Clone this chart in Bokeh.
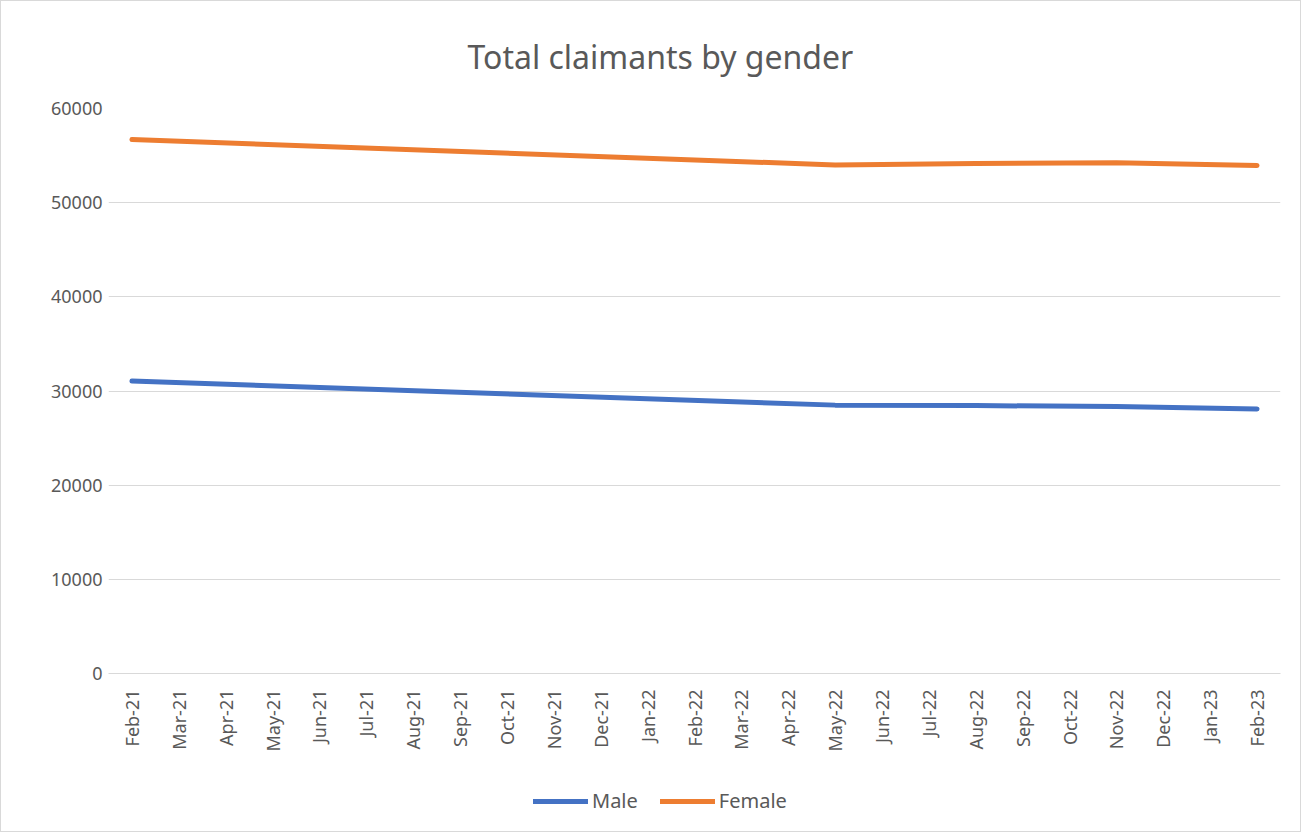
import math
from bokeh.plotting import figure
from bokeh.layouts import column
from bokeh.models import Legend, LegendItem, FactorRange, Range1d, SingleIntervalTicker
from bokeh.embed import file_html
from bokeh.resources import INLINE

months = ["Feb-21", "Mar-21", "Apr-21", "May-21", "Jun-21", "Jul-21", "Aug-21", "Sep-21",
          "Oct-21", "Nov-21", "Dec-21", "Jan-22", "Feb-22", "Mar-22", "Apr-22", "May-22",
          "Jun-22", "Jul-22", "Aug-22", "Sep-22", "Oct-22", "Nov-22", "Dec-22", "Jan-23", "Feb-23"]

obs_months = ["Feb-21", "May-22", "Aug-22", "Nov-22", "Feb-23"]
male = [31050, 28500, 28450, 28350, 28100]
female = [56700, 54000, 54150, 54250, 53950]

FONT = "Noto Sans"
GREY = "#595959"
BLUE = "#4472C4"
ORANGE = "#ED7D31"

x_range = FactorRange(*months)

p = figure(frame_width=1172, frame_height=565, x_range=x_range, y_range=Range1d(0, 60000),
           output_backend="svg", toolbar_location=None,
           min_border_left=107, min_border_right=20, min_border_top=107, min_border_bottom=110)
p.outline_line_color = None

p.title.text = "Total claimants by gender"
p.title.align = "left"
p.title.offset = 359
p.title.text_font = FONT
p.title.text_font_size = "32px"
p.title.text_font_style = "normal"
p.title.text_color = GREY
p.title.standoff = 62

p.line(obs_months, male, line_color=BLUE, line_width=5, line_cap="round", line_join="round")
p.line(obs_months, female, line_color=ORANGE, line_width=5, line_cap="round", line_join="round")

p.yaxis.ticker = SingleIntervalTicker(interval=10000)
p.yaxis.axis_line_color = None
p.yaxis.major_tick_line_color = None
p.yaxis.minor_tick_line_color = None
p.yaxis.major_label_text_font = FONT
p.yaxis.major_label_text_font_size = "18px"
p.yaxis.major_label_text_color = GREY
p.yaxis.major_label_standoff = 0

p.xaxis.axis_line_color = "#d9d9d9"
p.xaxis.axis_line_width = 1
p.xaxis.major_tick_line_color = None
p.xaxis.minor_tick_line_color = None
p.xaxis.major_label_orientation = math.pi / 2
p.xaxis.major_label_text_font = FONT
p.xaxis.major_label_text_font_size = "18px"
p.xaxis.major_label_text_color = GREY
p.xaxis.major_label_standoff = 10

p.xgrid.grid_line_color = None
p.ygrid.grid_line_color = "#d9d9d9"
p.ygrid.grid_line_width = 1

# legend strip below the chart (series drawn outside its visible range)
lf = figure(width=1299, height=48, x_range=x_range, y_range=Range1d(0, 1),
            output_backend="svg", toolbar_location=None,
            x_axis_location=None, y_axis_location=None, min_border=0)
lf.outline_line_color = None
lf.grid.visible = False
lm = lf.line(obs_months, male, line_color=BLUE, line_width=5, line_cap="round")
lfe = lf.line(obs_months, female, line_color=ORANGE, line_width=5, line_cap="round")

legend = Legend(items=[LegendItem(label="Male", renderers=[lm]),
                       LegendItem(label="Female", renderers=[lfe])],
                orientation="horizontal", location=(425, 17),
                label_text_font=FONT, label_text_font_size="20px", label_text_color=GREY,
                glyph_width=55, label_standoff=4, spacing=22, border_line_color=None,
                background_fill_alpha=0, margin=0, padding=4)
lf.add_layout(legend, "center")

layout = column(p, lf, spacing=0, styles={"border": "1px solid #d9d9d9"})

open("out.html", "w").write(file_html(layout, INLINE))
